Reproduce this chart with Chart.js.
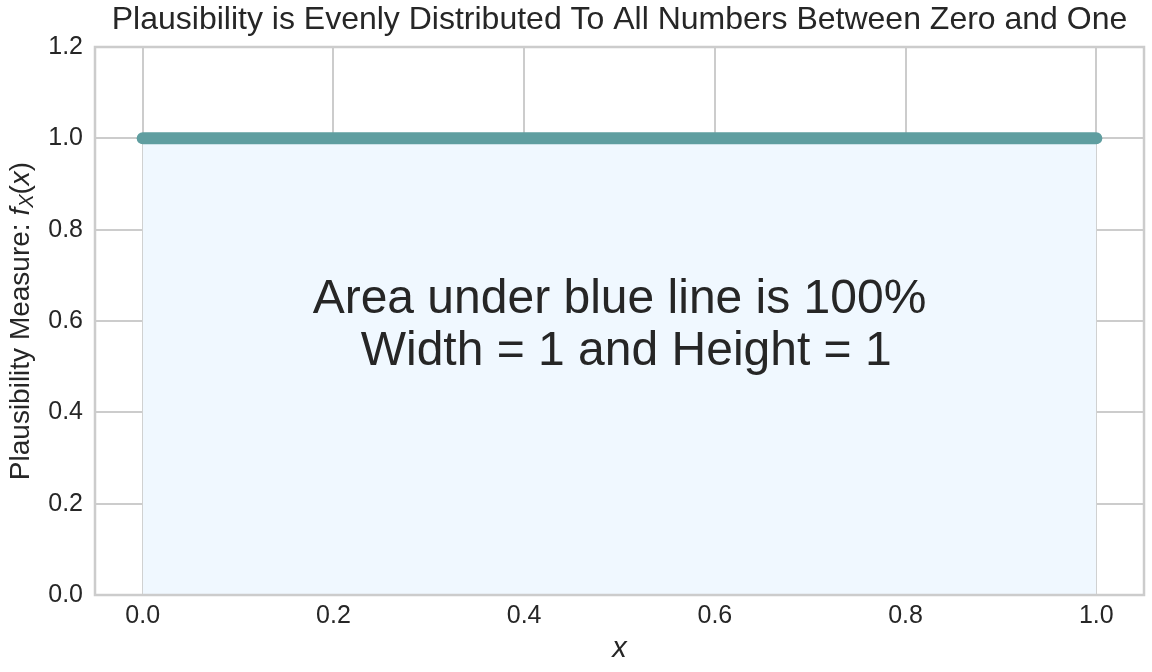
<!DOCTYPE html>
<html>
<head>
<meta charset="utf-8">
<script src="https://cdn.jsdelivr.net/npm/chart.js@4/dist/chart.umd.min.js"></script>
<style>
  html, body { margin: 0; padding: 0; background: #fff; }
  #wrap { width: 1152px; height: 672px; }
</style>
</head>
<body>
<div id="wrap"><canvas id="uniformChart" width="1152" height="672"></canvas></div>
<script>
// data
var xValues = [0, 1];
var yValues = [1, 1];
var xTicks = [0, 0.2, 0.4, 0.6, 0.8, 1.0];
var yTicks = [0, 0.2, 0.4, 0.6, 0.8, 1.0, 1.2];
var xRange = [-0.05, 1.05];
var yRange = [0, 1.2];
var titleText = 'Plausibility is Evenly Distributed To All Numbers Between Zero and One';
var noteLines = ['Area under blue line is 100%', ' Width = 1 and Height = 1'];
var notePos = [0.5, 0.6];

var FONT = '"Liberation Sans", Arial, sans-serif';
var TEXT = '#262626';
var GRID = '#cccccc';

var points = xValues.map(function(x, i) { return {x: x, y: yValues[i]}; });

var extras = {
    id: 'extras',
    afterDraw: function(chart) {
        var c = chart.ctx, a = chart.chartArea;
        c.save();
        // box around the axes
        c.strokeStyle = GRID;
        c.lineWidth = 2.5;
        c.strokeRect(a.left, a.top, a.right - a.left, a.bottom - a.top);

        c.fillStyle = TEXT;
        c.textAlign = 'center';
        c.textBaseline = 'middle';

        // title
        c.font = '32px ' + FONT;
        c.fillText(titleText, (a.left + a.right) / 2, 20);

        // note in the middle
        var xs = chart.scales.x, ys = chart.scales.y;
        var cx = xs.getPixelForValue(notePos[0]);
        var cy = ys.getPixelForValue(notePos[1]);
        c.font = '48px ' + FONT;
        c.fillText(noteLines[0], cx, cy - 21);
        c.fillText(noteLines[1], cx, cy + 31);

        // x label
        c.font = 'italic 29px ' + FONT;
        c.fillText('x', (a.left + a.right) / 2, 649);

        // y label, mixed styles
        var parts = [
            {t: 'Plausibility Measure: ', f: '28px ' + FONT, dy: 0},
            {t: 'f', f: 'italic 28px ' + FONT, dy: 0},
            {t: 'X', f: 'italic 20px ' + FONT, dy: 6},
            {t: '(', f: '28px ' + FONT, dy: 0},
            {t: 'x', f: 'italic 28px ' + FONT, dy: 0},
            {t: ')', f: '28px ' + FONT, dy: 0}
        ];
        var total = 0;
        parts.forEach(function(p) { c.font = p.f; p.w = c.measureText(p.t).width; total += p.w; });
        c.translate(21, (a.top + a.bottom) / 2);
        c.rotate(-Math.PI / 2);
        c.textAlign = 'left';
        var px = -total / 2;
        parts.forEach(function(p) {
            c.font = p.f;
            c.fillText(p.t, px, p.dy);
            px += p.w;
        });
        c.restore();
    }
};

new Chart(document.getElementById('uniformChart').getContext('2d'), {
    type: 'line',
    data: {
        datasets: [{
            data: points,
            borderColor: '#5f9ea0',
            borderWidth: 12,
            borderCapStyle: 'round',
            backgroundColor: '#f0f8ff',
            fill: 'origin',
            pointRadius: 0,
            tension: 0
        }]
    },
    options: {
        responsive: false,
        animation: false,
        layout: { padding: { top: 47, right: 8, left: 0, bottom: 0 } },
        plugins: { legend: { display: false }, tooltip: { enabled: false }, title: { display: false } },
        scales: {
            x: {
                type: 'linear',
                min: xRange[0],
                max: xRange[1],
                afterBuildTicks: function(s) { s.ticks = xTicks.map(function(v) { return {value: v}; }); },
                afterFit: function(s) { s.height = 77; },
                grid: { color: GRID, lineWidth: 2, drawTicks: false },
                border: { display: false },
                ticks: {
                    color: TEXT, font: { family: FONT, size: 25 }, padding: 6, maxRotation: 0,
                    callback: function(v) { return v.toFixed(1); }
                }
            },
            y: {
                min: yRange[0],
                max: yRange[1],
                afterBuildTicks: function(s) { s.ticks = yTicks.map(function(v) { return {value: v}; }); },
                afterFit: function(s) { s.width = 95; },
                grid: { color: GRID, lineWidth: 2, drawTicks: false },
                border: { display: false },
                ticks: {
                    color: TEXT, font: { family: FONT, size: 25 }, padding: 12,
                    callback: function(v) { return v.toFixed(1); }
                }
            }
        }
    },
    plugins: [extras]
});
</script>
</body>
</html>
